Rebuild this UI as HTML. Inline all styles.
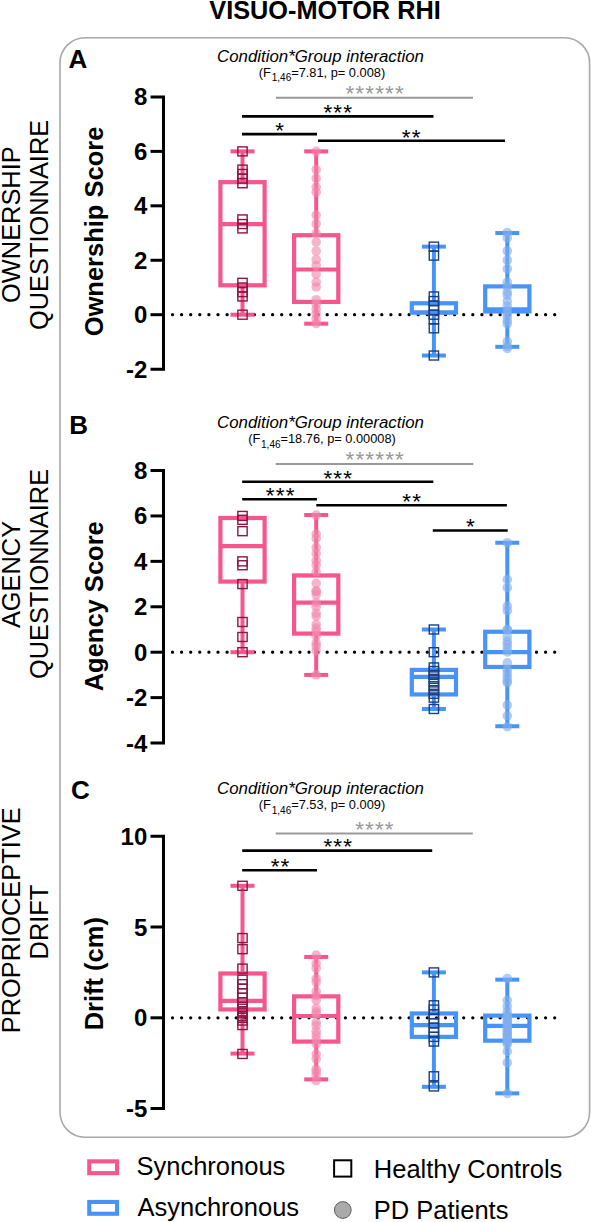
<!DOCTYPE html>
<html><head><meta charset="utf-8"><title>Visuo-motor RHI</title>
<style>html,body{margin:0;padding:0;background:#fff;}svg{display:block;}text{font-family:"Liberation Sans", sans-serif;}</style></head><body>
<svg width="591" height="1222" viewBox="0 0 591 1222">
<rect width="591" height="1222" fill="#fff"/>
<text x="325" y="19" text-anchor="middle" font-size="25.3" font-weight="bold" fill="#000">VISUO-MOTOR RHI</text>
<rect x="60.0" y="37.8" width="529.6" height="1099.4" rx="25" ry="25" fill="none" stroke="#a8a8a8" stroke-width="1.6"/>
<text x="68.6" y="67.8" font-size="26" font-weight="bold">A</text>
<text x="69.3" y="433.8" font-size="26" font-weight="bold">B</text>
<text x="70.9" y="799.2" font-size="26" font-weight="bold">C</text>
<text x="217" y="61.7" font-size="16.85" font-style="italic">Condition*Group interaction</text>
<text x="322" y="76.9" text-anchor="middle" font-size="12.8">(F<tspan font-size="10" dx="0.8" dy="4.5">1,46</tspan><tspan dy="-4.5">=7.81, p= 0.008)</tspan></text>
<text x="217" y="427.8" font-size="16.85" font-style="italic">Condition*Group interaction</text>
<text x="322" y="443.1" text-anchor="middle" font-size="12.8">(F<tspan font-size="10" dx="0.8" dy="4.5">1,46</tspan><tspan dy="-4.5">=18.76, p= 0.00008)</tspan></text>
<text x="217" y="793.8" font-size="16.85" font-style="italic">Condition*Group interaction</text>
<text x="322" y="809.3" text-anchor="middle" font-size="12.8">(F<tspan font-size="10" dx="0.8" dy="4.5">1,46</tspan><tspan dy="-4.5">=7.53, p= 0.009)</tspan></text>
<text transform="translate(20.2 224.6) rotate(-90)" text-anchor="middle" font-size="25.4" font-weight="normal">OWNERSHIP</text>
<text transform="translate(48.4 224.9) rotate(-90)" text-anchor="middle" font-size="25.4" font-weight="normal">QUESTIONNAIRE</text>
<text transform="translate(102.5 231.5) rotate(-90)" text-anchor="middle" font-size="25.5" font-weight="bold">Ownership Score</text>
<text transform="translate(19.8 574.5) rotate(-90)" text-anchor="middle" font-size="25.4" font-weight="normal">AGENCY</text>
<text transform="translate(48.4 574) rotate(-90)" text-anchor="middle" font-size="25.4" font-weight="normal">QUESTIONNAIRE</text>
<text transform="translate(102.5 606.3) rotate(-90)" text-anchor="middle" font-size="25.5" font-weight="bold">Agency Score</text>
<text transform="translate(20.2 920.3) rotate(-90)" text-anchor="middle" font-size="25.4" font-weight="normal">PROPRIOCEPTIVE</text>
<text transform="translate(48.4 922) rotate(-90)" text-anchor="middle" font-size="25.4" font-weight="normal">DRIFT</text>
<text transform="translate(102.5 973.7) rotate(-90)" text-anchor="middle" font-size="25.5" font-weight="bold">Drift (cm)</text>
<path d="M150.5 96.94 H163.5 V369.14 H150.5" fill="none" stroke="#000" stroke-width="3" stroke-linejoin="miter"/>
<text x="147.3" y="105.44" text-anchor="end" font-size="24" font-weight="bold">8</text>
<line x1="150.5" y1="151.38" x2="163.5" y2="151.38" stroke="#000" stroke-width="3"/>
<text x="147.3" y="159.88" text-anchor="end" font-size="24" font-weight="bold">6</text>
<line x1="150.5" y1="205.82" x2="163.5" y2="205.82" stroke="#000" stroke-width="3"/>
<text x="147.3" y="214.32" text-anchor="end" font-size="24" font-weight="bold">4</text>
<line x1="150.5" y1="260.26" x2="163.5" y2="260.26" stroke="#000" stroke-width="3"/>
<text x="147.3" y="268.76" text-anchor="end" font-size="24" font-weight="bold">2</text>
<line x1="150.5" y1="314.7" x2="163.5" y2="314.7" stroke="#000" stroke-width="3"/>
<text x="147.3" y="323.2" text-anchor="end" font-size="24" font-weight="bold">0</text>
<text x="147.3" y="377.64" text-anchor="end" font-size="24" font-weight="bold">-2</text>
<path d="M172.5 314.7 H555" stroke="#000" stroke-width="3.3" stroke-linecap="round" stroke-dasharray="0 9.1" fill="none"/>
<path d="M150.5 470.52 H163.5 V743.04 H150.5" fill="none" stroke="#000" stroke-width="3" stroke-linejoin="miter"/>
<text x="147.3" y="479.02" text-anchor="end" font-size="24" font-weight="bold">8</text>
<line x1="150.5" y1="515.94" x2="163.5" y2="515.94" stroke="#000" stroke-width="3"/>
<text x="147.3" y="524.44" text-anchor="end" font-size="24" font-weight="bold">6</text>
<line x1="150.5" y1="561.36" x2="163.5" y2="561.36" stroke="#000" stroke-width="3"/>
<text x="147.3" y="569.86" text-anchor="end" font-size="24" font-weight="bold">4</text>
<line x1="150.5" y1="606.78" x2="163.5" y2="606.78" stroke="#000" stroke-width="3"/>
<text x="147.3" y="615.28" text-anchor="end" font-size="24" font-weight="bold">2</text>
<line x1="150.5" y1="652.2" x2="163.5" y2="652.2" stroke="#000" stroke-width="3"/>
<text x="147.3" y="660.7" text-anchor="end" font-size="24" font-weight="bold">0</text>
<line x1="150.5" y1="697.62" x2="163.5" y2="697.62" stroke="#000" stroke-width="3"/>
<text x="147.3" y="706.12" text-anchor="end" font-size="24" font-weight="bold">-2</text>
<text x="147.3" y="751.54" text-anchor="end" font-size="24" font-weight="bold">-4</text>
<path d="M172.5 652.2 H555" stroke="#000" stroke-width="3.3" stroke-linecap="round" stroke-dasharray="0 9.1" fill="none"/>
<path d="M150.5 836.2 H163.5 V1108.6 H150.5" fill="none" stroke="#000" stroke-width="3" stroke-linejoin="miter"/>
<text x="147.3" y="844.7" text-anchor="end" font-size="24" font-weight="bold">10</text>
<line x1="150.5" y1="927" x2="163.5" y2="927" stroke="#000" stroke-width="3"/>
<text x="147.3" y="935.5" text-anchor="end" font-size="24" font-weight="bold">5</text>
<line x1="150.5" y1="1017.8" x2="163.5" y2="1017.8" stroke="#000" stroke-width="3"/>
<text x="147.3" y="1026.3" text-anchor="end" font-size="24" font-weight="bold">0</text>
<text x="147.3" y="1117.1" text-anchor="end" font-size="24" font-weight="bold">-5</text>
<path d="M172.5 1017.8 H555" stroke="#000" stroke-width="3.3" stroke-linecap="round" stroke-dasharray="0 9.1" fill="none"/>
<line x1="242.5" y1="151.38" x2="242.5" y2="182.14" stroke="#F5568B" stroke-width="4.0"/>
<line x1="242.5" y1="285.3" x2="242.5" y2="314.7" stroke="#F5568B" stroke-width="4.0"/>
<line x1="230.5" y1="314.7" x2="254.5" y2="314.7" stroke="#F5568B" stroke-width="4.0"/>
<line x1="230.5" y1="151.38" x2="254.5" y2="151.38" stroke="#F5568B" stroke-width="4.0"/>
<rect x="220.4" y="182.14" width="44.2" height="103.16" fill="none" stroke="#F5568B" stroke-width="4.2"/>
<line x1="220.4" y1="224.06" x2="264.6" y2="224.06" stroke="#F5568B" stroke-width="4.2"/>
<line x1="316.2" y1="151.38" x2="316.2" y2="235.22" stroke="#F5568B" stroke-width="4.0"/>
<line x1="316.2" y1="301.91" x2="316.2" y2="323.68" stroke="#F5568B" stroke-width="4.0"/>
<line x1="304.2" y1="323.68" x2="328.2" y2="323.68" stroke="#F5568B" stroke-width="4.0"/>
<line x1="304.2" y1="151.38" x2="328.2" y2="151.38" stroke="#F5568B" stroke-width="4.0"/>
<rect x="294.1" y="235.22" width="44.2" height="66.69" fill="none" stroke="#F5568B" stroke-width="4.2"/>
<line x1="294.1" y1="269.51" x2="338.3" y2="269.51" stroke="#F5568B" stroke-width="4.2"/>
<line x1="433.9" y1="246.65" x2="433.9" y2="303.27" stroke="#4794F6" stroke-width="4.0"/>
<line x1="433.9" y1="312.52" x2="433.9" y2="355.53" stroke="#4794F6" stroke-width="4.0"/>
<line x1="421.9" y1="355.53" x2="445.9" y2="355.53" stroke="#4794F6" stroke-width="4.0"/>
<line x1="421.9" y1="246.65" x2="445.9" y2="246.65" stroke="#4794F6" stroke-width="4.0"/>
<rect x="411.8" y="303.27" width="44.2" height="9.25" fill="none" stroke="#4794F6" stroke-width="4.2"/>
<line x1="411.8" y1="312.52" x2="456" y2="312.52" stroke="#4794F6" stroke-width="4.2"/>
<line x1="507.3" y1="233.04" x2="507.3" y2="286.39" stroke="#4794F6" stroke-width="4.0"/>
<line x1="507.3" y1="311.43" x2="507.3" y2="346.82" stroke="#4794F6" stroke-width="4.0"/>
<line x1="495.3" y1="346.82" x2="519.3" y2="346.82" stroke="#4794F6" stroke-width="4.0"/>
<line x1="495.3" y1="233.04" x2="519.3" y2="233.04" stroke="#4794F6" stroke-width="4.0"/>
<rect x="485.2" y="286.39" width="44.2" height="25.04" fill="none" stroke="#4794F6" stroke-width="4.2"/>
<line x1="485.2" y1="309.26" x2="529.4" y2="309.26" stroke="#4794F6" stroke-width="4.2"/>
<rect x="237.85" y="146.88" width="9.3" height="9.0" fill="none" stroke="#8E1545" stroke-width="1.4"/>
<rect x="237.85" y="165.12" width="9.3" height="9.0" fill="none" stroke="#8E1545" stroke-width="1.4"/>
<rect x="237.85" y="169.47" width="9.3" height="9.0" fill="none" stroke="#8E1545" stroke-width="1.4"/>
<rect x="237.85" y="174.1" width="9.3" height="9.0" fill="none" stroke="#8E1545" stroke-width="1.4"/>
<rect x="237.85" y="178.73" width="9.3" height="9.0" fill="none" stroke="#8E1545" stroke-width="1.4"/>
<rect x="237.85" y="214.93" width="9.3" height="9.0" fill="none" stroke="#8E1545" stroke-width="1.4"/>
<rect x="237.85" y="219.56" width="9.3" height="9.0" fill="none" stroke="#8E1545" stroke-width="1.4"/>
<rect x="237.85" y="223.91" width="9.3" height="9.0" fill="none" stroke="#8E1545" stroke-width="1.4"/>
<rect x="237.85" y="278.35" width="9.3" height="9.0" fill="none" stroke="#8E1545" stroke-width="1.4"/>
<rect x="237.85" y="282.98" width="9.3" height="9.0" fill="none" stroke="#8E1545" stroke-width="1.4"/>
<rect x="237.85" y="287.61" width="9.3" height="9.0" fill="none" stroke="#8E1545" stroke-width="1.4"/>
<rect x="237.85" y="291.96" width="9.3" height="9.0" fill="none" stroke="#8E1545" stroke-width="1.4"/>
<rect x="237.85" y="310.2" width="9.3" height="9.0" fill="none" stroke="#8E1545" stroke-width="1.4"/>
<rect x="429.25" y="242.15" width="9.3" height="9.0" fill="none" stroke="#1B3F80" stroke-width="1.4"/>
<rect x="429.25" y="251.13" width="9.3" height="9.0" fill="none" stroke="#1B3F80" stroke-width="1.4"/>
<rect x="429.25" y="291.96" width="9.3" height="9.0" fill="none" stroke="#1B3F80" stroke-width="1.4"/>
<rect x="429.25" y="296.59" width="9.3" height="9.0" fill="none" stroke="#1B3F80" stroke-width="1.4"/>
<rect x="429.25" y="301.22" width="9.3" height="9.0" fill="none" stroke="#1B3F80" stroke-width="1.4"/>
<rect x="429.25" y="305.57" width="9.3" height="9.0" fill="none" stroke="#1B3F80" stroke-width="1.4"/>
<rect x="429.25" y="310.2" width="9.3" height="9.0" fill="none" stroke="#1B3F80" stroke-width="1.4"/>
<rect x="429.25" y="314.83" width="9.3" height="9.0" fill="none" stroke="#1B3F80" stroke-width="1.4"/>
<rect x="429.25" y="323.81" width="9.3" height="9.0" fill="none" stroke="#1B3F80" stroke-width="1.4"/>
<rect x="429.25" y="351.03" width="9.3" height="9.0" fill="none" stroke="#1B3F80" stroke-width="1.4"/>
<circle cx="316.2" cy="151.38" r="4.8" fill="#F288AE" fill-opacity="0.62"/>
<circle cx="316.2" cy="169.62" r="4.8" fill="#F288AE" fill-opacity="0.62"/>
<circle cx="316.2" cy="178.33" r="4.8" fill="#F288AE" fill-opacity="0.62"/>
<circle cx="316.2" cy="187.04" r="4.8" fill="#F288AE" fill-opacity="0.62"/>
<circle cx="316.2" cy="192.21" r="4.8" fill="#F288AE" fill-opacity="0.62"/>
<circle cx="316.2" cy="215.07" r="4.8" fill="#F288AE" fill-opacity="0.62"/>
<circle cx="316.2" cy="223.79" r="4.8" fill="#F288AE" fill-opacity="0.62"/>
<circle cx="316.2" cy="233.31" r="4.8" fill="#F288AE" fill-opacity="0.62"/>
<circle cx="316.2" cy="242.02" r="4.8" fill="#F288AE" fill-opacity="0.62"/>
<circle cx="316.2" cy="251.01" r="4.8" fill="#F288AE" fill-opacity="0.62"/>
<circle cx="316.2" cy="259.72" r="4.8" fill="#F288AE" fill-opacity="0.62"/>
<circle cx="316.2" cy="265.43" r="4.8" fill="#F288AE" fill-opacity="0.62"/>
<circle cx="316.2" cy="274.14" r="4.8" fill="#F288AE" fill-opacity="0.62"/>
<circle cx="316.2" cy="282.04" r="4.8" fill="#F288AE" fill-opacity="0.62"/>
<circle cx="316.2" cy="286.94" r="4.8" fill="#F288AE" fill-opacity="0.62"/>
<circle cx="316.2" cy="299.73" r="4.8" fill="#F288AE" fill-opacity="0.62"/>
<circle cx="316.2" cy="304.36" r="4.8" fill="#F288AE" fill-opacity="0.62"/>
<circle cx="316.2" cy="309.26" r="4.8" fill="#F288AE" fill-opacity="0.62"/>
<circle cx="316.2" cy="313.88" r="4.8" fill="#F288AE" fill-opacity="0.62"/>
<circle cx="316.2" cy="318.78" r="4.8" fill="#F288AE" fill-opacity="0.62"/>
<circle cx="316.2" cy="323.68" r="4.8" fill="#F288AE" fill-opacity="0.62"/>
<circle cx="507.3" cy="232.5" r="4.8" fill="#7FAEEE" fill-opacity="0.62"/>
<circle cx="507.3" cy="237.94" r="4.8" fill="#7FAEEE" fill-opacity="0.62"/>
<circle cx="507.3" cy="251.01" r="4.8" fill="#7FAEEE" fill-opacity="0.62"/>
<circle cx="507.3" cy="260.26" r="4.8" fill="#7FAEEE" fill-opacity="0.62"/>
<circle cx="507.3" cy="268.97" r="4.8" fill="#7FAEEE" fill-opacity="0.62"/>
<circle cx="507.3" cy="282.04" r="4.8" fill="#7FAEEE" fill-opacity="0.62"/>
<circle cx="507.3" cy="286.66" r="4.8" fill="#7FAEEE" fill-opacity="0.62"/>
<circle cx="507.3" cy="292.11" r="4.8" fill="#7FAEEE" fill-opacity="0.62"/>
<circle cx="507.3" cy="295.1" r="4.8" fill="#7FAEEE" fill-opacity="0.62"/>
<circle cx="507.3" cy="301.09" r="4.8" fill="#7FAEEE" fill-opacity="0.62"/>
<circle cx="507.3" cy="305.99" r="4.8" fill="#7FAEEE" fill-opacity="0.62"/>
<circle cx="507.3" cy="310.07" r="4.8" fill="#7FAEEE" fill-opacity="0.62"/>
<circle cx="507.3" cy="313.34" r="4.8" fill="#7FAEEE" fill-opacity="0.62"/>
<circle cx="507.3" cy="316.61" r="4.8" fill="#7FAEEE" fill-opacity="0.62"/>
<circle cx="507.3" cy="320.69" r="4.8" fill="#7FAEEE" fill-opacity="0.62"/>
<circle cx="507.3" cy="323.95" r="4.8" fill="#7FAEEE" fill-opacity="0.62"/>
<circle cx="507.3" cy="341.38" r="4.8" fill="#7FAEEE" fill-opacity="0.62"/>
<circle cx="507.3" cy="346.28" r="4.8" fill="#7FAEEE" fill-opacity="0.62"/>
<circle cx="507.3" cy="348.45" r="4.8" fill="#7FAEEE" fill-opacity="0.62"/>
<line x1="242.5" y1="517.98" x2="242.5" y2="517.98" stroke="#F5568B" stroke-width="4.0"/>
<line x1="242.5" y1="581.57" x2="242.5" y2="652.2" stroke="#F5568B" stroke-width="4.0"/>
<line x1="230.5" y1="652.2" x2="254.5" y2="652.2" stroke="#F5568B" stroke-width="4.0"/>
<line x1="230.5" y1="517.98" x2="254.5" y2="517.98" stroke="#F5568B" stroke-width="4.0"/>
<rect x="220.4" y="517.98" width="44.2" height="63.59" fill="none" stroke="#F5568B" stroke-width="4.2"/>
<line x1="220.4" y1="546.14" x2="264.6" y2="546.14" stroke="#F5568B" stroke-width="4.2"/>
<line x1="316.2" y1="515.03" x2="316.2" y2="575.44" stroke="#F5568B" stroke-width="4.0"/>
<line x1="316.2" y1="633.58" x2="316.2" y2="674.91" stroke="#F5568B" stroke-width="4.0"/>
<line x1="304.2" y1="674.91" x2="328.2" y2="674.91" stroke="#F5568B" stroke-width="4.0"/>
<line x1="304.2" y1="515.03" x2="328.2" y2="515.03" stroke="#F5568B" stroke-width="4.0"/>
<rect x="294.1" y="575.44" width="44.2" height="58.14" fill="none" stroke="#F5568B" stroke-width="4.2"/>
<line x1="294.1" y1="602.69" x2="338.3" y2="602.69" stroke="#F5568B" stroke-width="4.2"/>
<line x1="433.9" y1="629.49" x2="433.9" y2="669.91" stroke="#4794F6" stroke-width="4.0"/>
<line x1="433.9" y1="694.44" x2="433.9" y2="708.98" stroke="#4794F6" stroke-width="4.0"/>
<line x1="421.9" y1="708.98" x2="445.9" y2="708.98" stroke="#4794F6" stroke-width="4.0"/>
<line x1="421.9" y1="629.49" x2="445.9" y2="629.49" stroke="#4794F6" stroke-width="4.0"/>
<rect x="411.8" y="669.91" width="44.2" height="24.53" fill="none" stroke="#4794F6" stroke-width="4.2"/>
<line x1="411.8" y1="676.95" x2="456" y2="676.95" stroke="#4794F6" stroke-width="4.2"/>
<line x1="507.3" y1="542.74" x2="507.3" y2="631.76" stroke="#4794F6" stroke-width="4.0"/>
<line x1="507.3" y1="666.96" x2="507.3" y2="726.23" stroke="#4794F6" stroke-width="4.0"/>
<line x1="495.3" y1="726.23" x2="519.3" y2="726.23" stroke="#4794F6" stroke-width="4.0"/>
<line x1="495.3" y1="542.74" x2="519.3" y2="542.74" stroke="#4794F6" stroke-width="4.0"/>
<rect x="485.2" y="631.76" width="44.2" height="35.2" fill="none" stroke="#4794F6" stroke-width="4.2"/>
<line x1="485.2" y1="652.2" x2="529.4" y2="652.2" stroke="#4794F6" stroke-width="4.2"/>
<rect x="237.85" y="511.44" width="9.3" height="9.0" fill="none" stroke="#8E1545" stroke-width="1.4"/>
<rect x="237.85" y="515.3" width="9.3" height="9.0" fill="none" stroke="#8E1545" stroke-width="1.4"/>
<rect x="237.85" y="526.66" width="9.3" height="9.0" fill="none" stroke="#8E1545" stroke-width="1.4"/>
<rect x="237.85" y="556.86" width="9.3" height="9.0" fill="none" stroke="#8E1545" stroke-width="1.4"/>
<rect x="237.85" y="560.72" width="9.3" height="9.0" fill="none" stroke="#8E1545" stroke-width="1.4"/>
<rect x="237.85" y="579.57" width="9.3" height="9.0" fill="none" stroke="#8E1545" stroke-width="1.4"/>
<rect x="237.85" y="617.5" width="9.3" height="9.0" fill="none" stroke="#8E1545" stroke-width="1.4"/>
<rect x="237.85" y="632.48" width="9.3" height="9.0" fill="none" stroke="#8E1545" stroke-width="1.4"/>
<rect x="237.85" y="647.7" width="9.3" height="9.0" fill="none" stroke="#8E1545" stroke-width="1.4"/>
<rect x="429.25" y="624.99" width="9.3" height="9.0" fill="none" stroke="#1B3F80" stroke-width="1.4"/>
<rect x="429.25" y="647.7" width="9.3" height="9.0" fill="none" stroke="#1B3F80" stroke-width="1.4"/>
<rect x="429.25" y="662.92" width="9.3" height="9.0" fill="none" stroke="#1B3F80" stroke-width="1.4"/>
<rect x="429.25" y="666.55" width="9.3" height="9.0" fill="none" stroke="#1B3F80" stroke-width="1.4"/>
<rect x="429.25" y="670.41" width="9.3" height="9.0" fill="none" stroke="#1B3F80" stroke-width="1.4"/>
<rect x="429.25" y="674.27" width="9.3" height="9.0" fill="none" stroke="#1B3F80" stroke-width="1.4"/>
<rect x="429.25" y="677.9" width="9.3" height="9.0" fill="none" stroke="#1B3F80" stroke-width="1.4"/>
<rect x="429.25" y="681.77" width="9.3" height="9.0" fill="none" stroke="#1B3F80" stroke-width="1.4"/>
<rect x="429.25" y="685.63" width="9.3" height="9.0" fill="none" stroke="#1B3F80" stroke-width="1.4"/>
<rect x="429.25" y="689.26" width="9.3" height="9.0" fill="none" stroke="#1B3F80" stroke-width="1.4"/>
<rect x="429.25" y="693.12" width="9.3" height="9.0" fill="none" stroke="#1B3F80" stroke-width="1.4"/>
<rect x="429.25" y="704.48" width="9.3" height="9.0" fill="none" stroke="#1B3F80" stroke-width="1.4"/>
<circle cx="316.2" cy="515.03" r="4.8" fill="#F288AE" fill-opacity="0.62"/>
<circle cx="316.2" cy="534.11" r="4.8" fill="#F288AE" fill-opacity="0.62"/>
<circle cx="316.2" cy="538.42" r="4.8" fill="#F288AE" fill-opacity="0.62"/>
<circle cx="316.2" cy="547.51" r="4.8" fill="#F288AE" fill-opacity="0.62"/>
<circle cx="316.2" cy="553.64" r="4.8" fill="#F288AE" fill-opacity="0.62"/>
<circle cx="316.2" cy="560.68" r="4.8" fill="#F288AE" fill-opacity="0.62"/>
<circle cx="316.2" cy="564.99" r="4.8" fill="#F288AE" fill-opacity="0.62"/>
<circle cx="316.2" cy="571.81" r="4.8" fill="#F288AE" fill-opacity="0.62"/>
<circle cx="316.2" cy="583.39" r="4.8" fill="#F288AE" fill-opacity="0.62"/>
<circle cx="316.2" cy="590.88" r="4.8" fill="#F288AE" fill-opacity="0.62"/>
<circle cx="316.2" cy="594.74" r="4.8" fill="#F288AE" fill-opacity="0.62"/>
<circle cx="316.2" cy="591.56" r="4.8" fill="#F288AE" fill-opacity="0.62"/>
<circle cx="316.2" cy="602.69" r="4.8" fill="#F288AE" fill-opacity="0.62"/>
<circle cx="316.2" cy="606.78" r="4.8" fill="#F288AE" fill-opacity="0.62"/>
<circle cx="316.2" cy="613.37" r="4.8" fill="#F288AE" fill-opacity="0.62"/>
<circle cx="316.2" cy="616.32" r="4.8" fill="#F288AE" fill-opacity="0.62"/>
<circle cx="316.2" cy="624.27" r="4.8" fill="#F288AE" fill-opacity="0.62"/>
<circle cx="316.2" cy="628.13" r="4.8" fill="#F288AE" fill-opacity="0.62"/>
<circle cx="316.2" cy="631.31" r="4.8" fill="#F288AE" fill-opacity="0.62"/>
<circle cx="316.2" cy="635.85" r="4.8" fill="#F288AE" fill-opacity="0.62"/>
<circle cx="316.2" cy="642.89" r="4.8" fill="#F288AE" fill-opacity="0.62"/>
<circle cx="316.2" cy="646.07" r="4.8" fill="#F288AE" fill-opacity="0.62"/>
<circle cx="316.2" cy="650.61" r="4.8" fill="#F288AE" fill-opacity="0.62"/>
<circle cx="316.2" cy="674.91" r="4.8" fill="#F288AE" fill-opacity="0.62"/>
<circle cx="507.3" cy="542.74" r="4.8" fill="#7FAEEE" fill-opacity="0.62"/>
<circle cx="507.3" cy="579.53" r="4.8" fill="#7FAEEE" fill-opacity="0.62"/>
<circle cx="507.3" cy="587.7" r="4.8" fill="#7FAEEE" fill-opacity="0.62"/>
<circle cx="507.3" cy="606.1" r="4.8" fill="#7FAEEE" fill-opacity="0.62"/>
<circle cx="507.3" cy="610.64" r="4.8" fill="#7FAEEE" fill-opacity="0.62"/>
<circle cx="507.3" cy="629.94" r="4.8" fill="#7FAEEE" fill-opacity="0.62"/>
<circle cx="507.3" cy="629.49" r="4.8" fill="#7FAEEE" fill-opacity="0.62"/>
<circle cx="507.3" cy="636.76" r="4.8" fill="#7FAEEE" fill-opacity="0.62"/>
<circle cx="507.3" cy="641.3" r="4.8" fill="#7FAEEE" fill-opacity="0.62"/>
<circle cx="507.3" cy="644.48" r="4.8" fill="#7FAEEE" fill-opacity="0.62"/>
<circle cx="507.3" cy="648.11" r="4.8" fill="#7FAEEE" fill-opacity="0.62"/>
<circle cx="507.3" cy="651.97" r="4.8" fill="#7FAEEE" fill-opacity="0.62"/>
<circle cx="507.3" cy="662.87" r="4.8" fill="#7FAEEE" fill-opacity="0.62"/>
<circle cx="507.3" cy="669.91" r="4.8" fill="#7FAEEE" fill-opacity="0.62"/>
<circle cx="507.3" cy="673.55" r="4.8" fill="#7FAEEE" fill-opacity="0.62"/>
<circle cx="507.3" cy="677.18" r="4.8" fill="#7FAEEE" fill-opacity="0.62"/>
<circle cx="507.3" cy="680.81" r="4.8" fill="#7FAEEE" fill-opacity="0.62"/>
<circle cx="507.3" cy="682.63" r="4.8" fill="#7FAEEE" fill-opacity="0.62"/>
<circle cx="507.3" cy="705.11" r="4.8" fill="#7FAEEE" fill-opacity="0.62"/>
<circle cx="507.3" cy="715.79" r="4.8" fill="#7FAEEE" fill-opacity="0.62"/>
<circle cx="507.3" cy="726.69" r="4.8" fill="#7FAEEE" fill-opacity="0.62"/>
<line x1="242.5" y1="885.78" x2="242.5" y2="973.49" stroke="#F5568B" stroke-width="4.0"/>
<line x1="242.5" y1="1009.45" x2="242.5" y2="1053.58" stroke="#F5568B" stroke-width="4.0"/>
<line x1="230.5" y1="1053.58" x2="254.5" y2="1053.58" stroke="#F5568B" stroke-width="4.0"/>
<line x1="230.5" y1="885.78" x2="254.5" y2="885.78" stroke="#F5568B" stroke-width="4.0"/>
<rect x="220.4" y="973.49" width="44.2" height="35.96" fill="none" stroke="#F5568B" stroke-width="4.2"/>
<line x1="220.4" y1="1000.91" x2="264.6" y2="1000.91" stroke="#F5568B" stroke-width="4.2"/>
<line x1="316.2" y1="956.96" x2="316.2" y2="996.37" stroke="#F5568B" stroke-width="4.0"/>
<line x1="316.2" y1="1041.59" x2="316.2" y2="1079.36" stroke="#F5568B" stroke-width="4.0"/>
<line x1="304.2" y1="1079.36" x2="328.2" y2="1079.36" stroke="#F5568B" stroke-width="4.0"/>
<line x1="304.2" y1="956.96" x2="328.2" y2="956.96" stroke="#F5568B" stroke-width="4.0"/>
<rect x="294.1" y="996.37" width="44.2" height="45.22" fill="none" stroke="#F5568B" stroke-width="4.2"/>
<line x1="294.1" y1="1015.98" x2="338.3" y2="1015.98" stroke="#F5568B" stroke-width="4.2"/>
<line x1="433.9" y1="972.4" x2="433.9" y2="1013.44" stroke="#4794F6" stroke-width="4.0"/>
<line x1="433.9" y1="1036.87" x2="433.9" y2="1086.81" stroke="#4794F6" stroke-width="4.0"/>
<line x1="421.9" y1="1086.81" x2="445.9" y2="1086.81" stroke="#4794F6" stroke-width="4.0"/>
<line x1="421.9" y1="972.4" x2="445.9" y2="972.4" stroke="#4794F6" stroke-width="4.0"/>
<rect x="411.8" y="1013.44" width="44.2" height="23.43" fill="none" stroke="#4794F6" stroke-width="4.2"/>
<line x1="411.8" y1="1025.06" x2="456" y2="1025.06" stroke="#4794F6" stroke-width="4.2"/>
<line x1="507.3" y1="979.66" x2="507.3" y2="1015.62" stroke="#4794F6" stroke-width="4.0"/>
<line x1="507.3" y1="1040.68" x2="507.3" y2="1093.35" stroke="#4794F6" stroke-width="4.0"/>
<line x1="495.3" y1="1093.35" x2="519.3" y2="1093.35" stroke="#4794F6" stroke-width="4.0"/>
<line x1="495.3" y1="979.66" x2="519.3" y2="979.66" stroke="#4794F6" stroke-width="4.0"/>
<rect x="485.2" y="1015.62" width="44.2" height="25.06" fill="none" stroke="#4794F6" stroke-width="4.2"/>
<line x1="485.2" y1="1025.97" x2="529.4" y2="1025.97" stroke="#4794F6" stroke-width="4.2"/>
<rect x="237.85" y="881.28" width="9.3" height="9.0" fill="none" stroke="#8E1545" stroke-width="1.4"/>
<rect x="237.85" y="933.58" width="9.3" height="9.0" fill="none" stroke="#8E1545" stroke-width="1.4"/>
<rect x="237.85" y="944.66" width="9.3" height="9.0" fill="none" stroke="#8E1545" stroke-width="1.4"/>
<rect x="237.85" y="964.09" width="9.3" height="9.0" fill="none" stroke="#8E1545" stroke-width="1.4"/>
<rect x="237.85" y="975.16" width="9.3" height="9.0" fill="none" stroke="#8E1545" stroke-width="1.4"/>
<rect x="237.85" y="979.7" width="9.3" height="9.0" fill="none" stroke="#8E1545" stroke-width="1.4"/>
<rect x="237.85" y="984.24" width="9.3" height="9.0" fill="none" stroke="#8E1545" stroke-width="1.4"/>
<rect x="237.85" y="988.78" width="9.3" height="9.0" fill="none" stroke="#8E1545" stroke-width="1.4"/>
<rect x="237.85" y="993.32" width="9.3" height="9.0" fill="none" stroke="#8E1545" stroke-width="1.4"/>
<rect x="237.85" y="997.86" width="9.3" height="9.0" fill="none" stroke="#8E1545" stroke-width="1.4"/>
<rect x="237.85" y="1002.4" width="9.3" height="9.0" fill="none" stroke="#8E1545" stroke-width="1.4"/>
<rect x="237.85" y="1004.22" width="9.3" height="9.0" fill="none" stroke="#8E1545" stroke-width="1.4"/>
<rect x="237.85" y="1006.94" width="9.3" height="9.0" fill="none" stroke="#8E1545" stroke-width="1.4"/>
<rect x="237.85" y="1008.76" width="9.3" height="9.0" fill="none" stroke="#8E1545" stroke-width="1.4"/>
<rect x="237.85" y="1011.48" width="9.3" height="9.0" fill="none" stroke="#8E1545" stroke-width="1.4"/>
<rect x="237.85" y="1013.3" width="9.3" height="9.0" fill="none" stroke="#8E1545" stroke-width="1.4"/>
<rect x="237.85" y="1016.02" width="9.3" height="9.0" fill="none" stroke="#8E1545" stroke-width="1.4"/>
<rect x="237.85" y="1020.56" width="9.3" height="9.0" fill="none" stroke="#8E1545" stroke-width="1.4"/>
<rect x="237.85" y="1049.44" width="9.3" height="9.0" fill="none" stroke="#8E1545" stroke-width="1.4"/>
<rect x="429.25" y="967.9" width="9.3" height="9.0" fill="none" stroke="#1B3F80" stroke-width="1.4"/>
<rect x="429.25" y="1000.77" width="9.3" height="9.0" fill="none" stroke="#1B3F80" stroke-width="1.4"/>
<rect x="429.25" y="1005.13" width="9.3" height="9.0" fill="none" stroke="#1B3F80" stroke-width="1.4"/>
<rect x="429.25" y="1009.67" width="9.3" height="9.0" fill="none" stroke="#1B3F80" stroke-width="1.4"/>
<rect x="429.25" y="1014.21" width="9.3" height="9.0" fill="none" stroke="#1B3F80" stroke-width="1.4"/>
<rect x="429.25" y="1018.75" width="9.3" height="9.0" fill="none" stroke="#1B3F80" stroke-width="1.4"/>
<rect x="429.25" y="1023.29" width="9.3" height="9.0" fill="none" stroke="#1B3F80" stroke-width="1.4"/>
<rect x="429.25" y="1027.83" width="9.3" height="9.0" fill="none" stroke="#1B3F80" stroke-width="1.4"/>
<rect x="429.25" y="1032.37" width="9.3" height="9.0" fill="none" stroke="#1B3F80" stroke-width="1.4"/>
<rect x="429.25" y="1037.09" width="9.3" height="9.0" fill="none" stroke="#1B3F80" stroke-width="1.4"/>
<rect x="429.25" y="1071.78" width="9.3" height="9.0" fill="none" stroke="#1B3F80" stroke-width="1.4"/>
<rect x="429.25" y="1081.94" width="9.3" height="9.0" fill="none" stroke="#1B3F80" stroke-width="1.4"/>
<circle cx="316.2" cy="955.15" r="4.8" fill="#F288AE" fill-opacity="0.62"/>
<circle cx="316.2" cy="963.68" r="4.8" fill="#F288AE" fill-opacity="0.62"/>
<circle cx="316.2" cy="968.22" r="4.8" fill="#F288AE" fill-opacity="0.62"/>
<circle cx="316.2" cy="978.57" r="4.8" fill="#F288AE" fill-opacity="0.62"/>
<circle cx="316.2" cy="982.02" r="4.8" fill="#F288AE" fill-opacity="0.62"/>
<circle cx="316.2" cy="991.29" r="4.8" fill="#F288AE" fill-opacity="0.62"/>
<circle cx="316.2" cy="995.83" r="4.8" fill="#F288AE" fill-opacity="0.62"/>
<circle cx="316.2" cy="1000.37" r="4.8" fill="#F288AE" fill-opacity="0.62"/>
<circle cx="316.2" cy="1008.36" r="4.8" fill="#F288AE" fill-opacity="0.62"/>
<circle cx="316.2" cy="1011.81" r="4.8" fill="#F288AE" fill-opacity="0.62"/>
<circle cx="316.2" cy="1013.99" r="4.8" fill="#F288AE" fill-opacity="0.62"/>
<circle cx="316.2" cy="1022.16" r="4.8" fill="#F288AE" fill-opacity="0.62"/>
<circle cx="316.2" cy="1025.61" r="4.8" fill="#F288AE" fill-opacity="0.62"/>
<circle cx="316.2" cy="1031.24" r="4.8" fill="#F288AE" fill-opacity="0.62"/>
<circle cx="316.2" cy="1034.87" r="4.8" fill="#F288AE" fill-opacity="0.62"/>
<circle cx="316.2" cy="1039.23" r="4.8" fill="#F288AE" fill-opacity="0.62"/>
<circle cx="316.2" cy="1043.95" r="4.8" fill="#F288AE" fill-opacity="0.62"/>
<circle cx="316.2" cy="1054.12" r="4.8" fill="#F288AE" fill-opacity="0.62"/>
<circle cx="316.2" cy="1058.84" r="4.8" fill="#F288AE" fill-opacity="0.62"/>
<circle cx="316.2" cy="1069.19" r="4.8" fill="#F288AE" fill-opacity="0.62"/>
<circle cx="316.2" cy="1071.55" r="4.8" fill="#F288AE" fill-opacity="0.62"/>
<circle cx="316.2" cy="1075" r="4.8" fill="#F288AE" fill-opacity="0.62"/>
<circle cx="316.2" cy="1080.63" r="4.8" fill="#F288AE" fill-opacity="0.62"/>
<circle cx="507.3" cy="978.57" r="4.8" fill="#7FAEEE" fill-opacity="0.62"/>
<circle cx="507.3" cy="1000.37" r="4.8" fill="#7FAEEE" fill-opacity="0.62"/>
<circle cx="507.3" cy="1006.18" r="4.8" fill="#7FAEEE" fill-opacity="0.62"/>
<circle cx="507.3" cy="1011.44" r="4.8" fill="#7FAEEE" fill-opacity="0.62"/>
<circle cx="507.3" cy="1015.08" r="4.8" fill="#7FAEEE" fill-opacity="0.62"/>
<circle cx="507.3" cy="1016.89" r="4.8" fill="#7FAEEE" fill-opacity="0.62"/>
<circle cx="507.3" cy="1018.71" r="4.8" fill="#7FAEEE" fill-opacity="0.62"/>
<circle cx="507.3" cy="1020.52" r="4.8" fill="#7FAEEE" fill-opacity="0.62"/>
<circle cx="507.3" cy="1022.34" r="4.8" fill="#7FAEEE" fill-opacity="0.62"/>
<circle cx="507.3" cy="1024.16" r="4.8" fill="#7FAEEE" fill-opacity="0.62"/>
<circle cx="507.3" cy="1025.97" r="4.8" fill="#7FAEEE" fill-opacity="0.62"/>
<circle cx="507.3" cy="1027.79" r="4.8" fill="#7FAEEE" fill-opacity="0.62"/>
<circle cx="507.3" cy="1029.6" r="4.8" fill="#7FAEEE" fill-opacity="0.62"/>
<circle cx="507.3" cy="1031.42" r="4.8" fill="#7FAEEE" fill-opacity="0.62"/>
<circle cx="507.3" cy="1033.24" r="4.8" fill="#7FAEEE" fill-opacity="0.62"/>
<circle cx="507.3" cy="1035.05" r="4.8" fill="#7FAEEE" fill-opacity="0.62"/>
<circle cx="507.3" cy="1036.87" r="4.8" fill="#7FAEEE" fill-opacity="0.62"/>
<circle cx="507.3" cy="1038.68" r="4.8" fill="#7FAEEE" fill-opacity="0.62"/>
<circle cx="507.3" cy="1040.5" r="4.8" fill="#7FAEEE" fill-opacity="0.62"/>
<circle cx="507.3" cy="1042.32" r="4.8" fill="#7FAEEE" fill-opacity="0.62"/>
<circle cx="507.3" cy="1044.5" r="4.8" fill="#7FAEEE" fill-opacity="0.62"/>
<circle cx="507.3" cy="1051.4" r="4.8" fill="#7FAEEE" fill-opacity="0.62"/>
<circle cx="507.3" cy="1062.66" r="4.8" fill="#7FAEEE" fill-opacity="0.62"/>
<circle cx="507.3" cy="1093.35" r="4.8" fill="#7FAEEE" fill-opacity="0.62"/>
<line x1="276" y1="97.8" x2="473" y2="97.8" stroke="#999" stroke-width="2.0"/>
<text x="345.45" y="101" font-size="22.5" letter-spacing="1.15" fill="#999">******</text>
<line x1="242" y1="116.4" x2="433.5" y2="116.4" stroke="#000" stroke-width="2.6"/>
<text x="323.45" y="120.25" font-size="22.5" letter-spacing="1.15" fill="#000">***</text>
<line x1="242" y1="134.1" x2="317" y2="134.1" stroke="#000" stroke-width="2.6"/>
<text x="275.2" y="137.95" font-size="22.5" letter-spacing="1.15" fill="#000">*</text>
<line x1="318" y1="140.8" x2="505" y2="140.8" stroke="#000" stroke-width="2.6"/>
<text x="401.75" y="144.65" font-size="22.5" letter-spacing="1.15" fill="#000">**</text>
<line x1="275.7" y1="464" x2="473.4" y2="464" stroke="#999" stroke-width="2.0"/>
<text x="345.55" y="467.2" font-size="22.5" letter-spacing="1.15" fill="#999">******</text>
<line x1="242.2" y1="481.7" x2="433.3" y2="481.7" stroke="#000" stroke-width="2.6"/>
<text x="323.45" y="485.55" font-size="22.5" letter-spacing="1.15" fill="#000">***</text>
<line x1="242.2" y1="499.2" x2="317" y2="499.2" stroke="#000" stroke-width="2.6"/>
<text x="265.85" y="503.05" font-size="22.5" letter-spacing="1.15" fill="#000">***</text>
<line x1="316.3" y1="505.3" x2="506.9" y2="505.3" stroke="#000" stroke-width="2.6"/>
<text x="402.35" y="509.15" font-size="22.5" letter-spacing="1.15" fill="#000">**</text>
<line x1="432.8" y1="530.5" x2="507.7" y2="530.5" stroke="#000" stroke-width="2.6"/>
<text x="466.05" y="534.35" font-size="22.5" letter-spacing="1.15" fill="#000">*</text>
<line x1="275.7" y1="833.4" x2="472.8" y2="833.4" stroke="#999" stroke-width="2.0"/>
<text x="355.15" y="836.6" font-size="22.5" letter-spacing="1.15" fill="#999">****</text>
<line x1="242.2" y1="850.6" x2="432.2" y2="850.6" stroke="#000" stroke-width="2.6"/>
<text x="323.45" y="854.45" font-size="22.5" letter-spacing="1.15" fill="#000">***</text>
<line x1="242.2" y1="870.2" x2="317" y2="870.2" stroke="#000" stroke-width="2.6"/>
<text x="270.65" y="874.05" font-size="22.5" letter-spacing="1.15" fill="#000">**</text>
<rect x="89.25" y="1161.35" width="27.8" height="11.8" fill="none" stroke="#F5568B" stroke-width="4.1"/>
<rect x="89.25" y="1201.95" width="27.8" height="11.8" fill="none" stroke="#4794F6" stroke-width="4.1"/>
<text x="136.5" y="1175.4" font-size="25.5">Synchronous</text>
<text x="137.5" y="1215.7" font-size="25.5">Asynchronous</text>
<rect x="334.1" y="1160.3" width="17.2" height="16.3" fill="none" stroke="#000" stroke-width="2"/>
<circle cx="342.8" cy="1210" r="8.4" fill="#aaa" stroke="#555" stroke-width="0.9"/>
<text x="373.8" y="1177.6" font-size="25.5">Healthy Controls</text>
<text x="373.8" y="1219" font-size="25.5">PD Patients</text>
</svg></body></html>
